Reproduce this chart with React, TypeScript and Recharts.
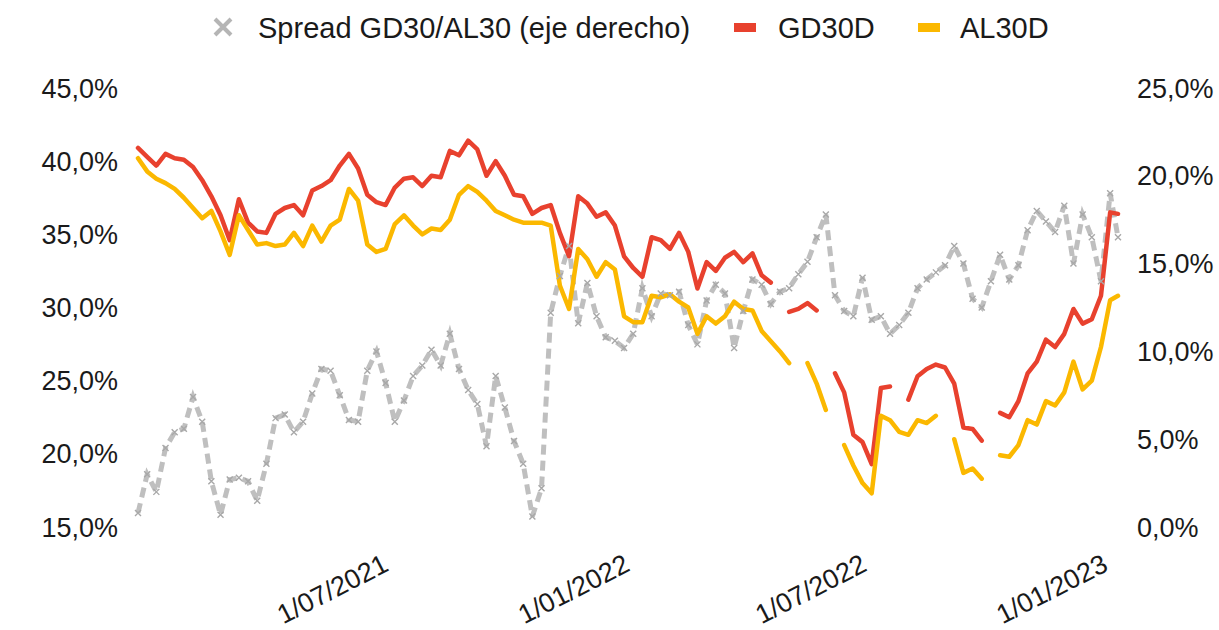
import { Line, LineChart, XAxis, YAxis } from 'recharts';

// weekly samples
const dates = [
  '2020-12-22', '2020-12-29', '2021-01-05', '2021-01-12', '2021-01-19', '2021-01-26', '2021-02-02', '2021-02-09', '2021-02-16', '2021-02-23',
  '2021-03-02', '2021-03-09', '2021-03-16', '2021-03-23', '2021-03-30', '2021-04-06', '2021-04-13', '2021-04-20', '2021-04-27', '2021-05-04',
  '2021-05-11', '2021-05-18', '2021-05-25', '2021-06-01', '2021-06-08', '2021-06-15', '2021-06-22', '2021-06-29', '2021-07-06', '2021-07-13',
  '2021-07-20', '2021-07-27', '2021-08-03', '2021-08-10', '2021-08-17', '2021-08-24', '2021-08-31', '2021-09-07', '2021-09-14', '2021-09-21',
  '2021-09-28', '2021-10-05', '2021-10-12', '2021-10-19', '2021-10-26', '2021-11-02', '2021-11-09', '2021-11-16', '2021-11-23', '2021-11-30',
  '2021-12-07', '2021-12-14', '2021-12-21', '2021-12-28', '2022-01-04', '2022-01-11', '2022-01-18', '2022-01-25', '2022-02-01', '2022-02-08',
  '2022-02-15', '2022-02-22', '2022-03-01', '2022-03-08', '2022-03-15', '2022-03-22', '2022-03-29', '2022-04-05', '2022-04-12', '2022-04-19',
  '2022-04-26', '2022-05-03', '2022-05-10', '2022-05-17', '2022-05-24', '2022-05-31', '2022-06-07', '2022-06-14', '2022-06-21', '2022-06-28',
  '2022-07-05', '2022-07-12', '2022-07-19', '2022-07-26', '2022-08-02', '2022-08-09', '2022-08-16', '2022-08-23', '2022-08-30', '2022-09-06',
  '2022-09-13', '2022-09-20', '2022-09-27', '2022-10-04', '2022-10-11', '2022-10-18', '2022-10-25', '2022-11-01', '2022-11-08', '2022-11-15',
  '2022-11-22', '2022-11-29', '2022-12-06', '2022-12-13', '2022-12-20', '2022-12-27', '2023-01-03', '2023-01-09',
];

const gd30d: (number | null)[] = [
  40.9, 40.3, 39.7, 40.5, 40.2, 40.1, 39.6, 38.7, 37.6, 36.3,
  34.6, 37.4, 35.8, 35.2, 35.1, 36.4, 36.8, 37.0, 36.3, 38.0,
  38.3, 38.7, 39.7, 40.5, 39.5, 37.7, 37.2, 37.0, 38.2, 38.8,
  38.9, 38.3, 39.0, 38.9, 40.7, 40.4, 41.4, 40.8, 39.0, 40.0,
  39.0, 37.7, 37.6, 36.4, 36.8, 37.0, 35.1, 33.5, 37.6, 37.1,
  36.2, 36.5, 35.6, 33.5, 32.7, 32.1, 34.8, 34.6, 34.0, 35.1,
  33.8, 31.3, 33.1, 32.5, 33.4, 33.8, 33.1, 33.7, 32.2, 31.7,
  null, 29.7, 29.9, 30.3, 29.8, null, 25.5, 24.2, 21.3, 20.8,
  19.3, 24.5, 24.6, null, 23.7, 25.3, 25.8, 26.1, 25.9, 24.8,
  21.8, 21.7, 20.9, null, 22.8, 22.5, 23.6, 25.5, 26.3, 27.8,
  27.3, 28.2, 29.9, 28.9, 29.2, 30.8, 36.5, 36.4,
];

const al30d: (number | null)[] = [
  40.2, 39.3, 38.8, 38.5, 38.1, 37.5, 36.8, 36.1, 36.6, 35.2,
  33.6, 36.3, 35.3, 34.3, 34.4, 34.2, 34.3, 35.1, 34.2, 35.6,
  34.5, 35.6, 36.0, 38.1, 37.3, 34.3, 33.8, 34.0, 35.7, 36.3,
  35.6, 35.0, 35.4, 35.3, 36.0, 37.7, 38.3, 37.9, 37.3, 36.6,
  36.3, 36.0, 35.8, 35.8, 35.8, 35.6, 31.5, 29.9, 34.0, 33.3,
  32.1, 33.1, 32.6, 29.4, 29.0, 29.0, 30.8, 30.7, 30.9, 30.4,
  30.0, 28.2, 29.4, 28.9, 29.4, 30.4, 29.9, 29.8, 28.4, 27.7,
  27.0, 26.2, null, 26.2, 24.8, 23.0, null, 20.6, 19.2, 18.0,
  17.3, 22.6, 22.3, 21.5, 21.3, 22.3, 22.1, 22.6, null, 21.0,
  18.7, 19.0, 18.3, null, 19.9, 19.8, 20.6, 22.3, 22.0, 23.6,
  23.3, 24.2, 26.3, 24.4, 25.0, 27.3, 30.5, 30.8,
];

// eje derecho
const spread: number[] = [
  0.8, 3.0, 2.0, 4.5, 5.4, 5.6, 7.4, 6.0, 2.6, 0.7,
  2.7, 2.8, 2.6, 1.5, 3.6, 6.2, 6.4, 5.4, 6.0, 7.6,
  9.0, 8.9, 7.5, 6.1, 6.0, 8.9, 10.0, 8.2, 6.0, 7.2,
  8.6, 9.2, 10.1, 9.2, 11.0, 9.0, 7.8, 7.0, 4.6, 8.6,
  6.8, 4.9, 3.6, 0.6, 2.2, 12.2, 14.3, 16.0, 11.6, 13.9,
  12.0, 10.8, 10.6, 10.2, 11.0, 13.6, 12.0, 13.3, 13.2, 13.4,
  11.5, 10.4, 12.9, 13.8, 13.3, 10.2, 12.3, 14.1, 13.8, 12.7,
  13.4, 13.6, 14.4, 15.1, 16.5, 17.8, 13.2, 12.3, 12.0, 14.2,
  11.8, 12.0, 11.0, 11.5, 12.2, 13.6, 14.1, 14.5, 14.9, 16.0,
  15.0, 13.0, 12.5, 14.0, 15.5, 14.1, 14.9, 16.9, 18.0, 17.4,
  16.8, 18.3, 15.0, 17.8, 16.5, 14.0, 19.0, 16.5,
];

const xTicks = ['2021-07-01', '2022-01-01', '2022-07-01', '2023-01-01'];
const leftTicks = [15, 20, 25, 30, 35, 40, 45];
const rightTicks = [0, 5, 10, 15, 20, 25];

const RED = '#e8412e';
const YELLOW = '#fbb800';
const GREY = '#bfbfbf';
const FONT = '"Liberation Sans", Arial, sans-serif';

const rows = dates.map((d, i) => ({
  t: Date.parse(d),
  gd: gd30d[i],
  al: al30d[i],
  spread: spread[i],
}));

const pct = (v: number) => `${v.toFixed(1).replace('.', ',')}%`;

function fmtDate(ts: number): string {
  const d = new Date(ts);
  const mm = String(d.getUTCMonth() + 1).padStart(2, '0');
  return `${d.getUTCDate()}/${mm}/${d.getUTCFullYear()}`;
}

function DateTick({ x, payload }: any) {
  return (
    <g transform={`translate(${x + 2},570) rotate(-27)`}>
      <text textAnchor="end" fontSize={27} fill="#1a1a1a" fontFamily={FONT}>
        {fmtDate(payload.value)}
      </text>
    </g>
  );
}

function CrossDot({ cx, cy }: any) {
  if (cx == null || cy == null) return <g />;
  return (
    <path
      d={`M${cx - 3},${cy - 3}L${cx + 3},${cy + 3}M${cx + 3},${cy - 3}L${cx - 3},${cy + 3}`}
      stroke="#a8a8a8"
      strokeWidth={1.4}
    />
  );
}

function LegendRow() {
  return (
    <svg width={1219} height={60} style={{ position: 'absolute', left: 0, top: 0 }}>
      <path d="M215,19L231,35M231,19L215,35" stroke="#b5b5b5" strokeWidth={4} />
      <text x={258} y={38} fontSize={29} fill="#1a1a1a" fontFamily={FONT}>
        Spread GD30/AL30 (eje derecho)
      </text>
      <rect x={734} y={23} width={22} height={9} fill={RED} />
      <text x={778} y={38} fontSize={29} fill="#1a1a1a" fontFamily={FONT}>
        GD30D
      </text>
      <rect x={918} y={23} width={22} height={9} fill={YELLOW} />
      <text x={960} y={38} fontSize={29} fill="#1a1a1a" fontFamily={FONT}>
        AL30D
      </text>
    </svg>
  );
}

export default function App() {
  const axisTick = { fontSize: 27, fill: '#1a1a1a', fontFamily: FONT };
  return (
    <div style={{ position: 'relative', width: 1219, height: 630, background: '#fff', fontFamily: FONT }}>
      <style>{'body{margin:0}'}</style>
      <LineChart
        width={1219}
        height={630}
        data={rows}
        margin={{ top: 88, right: 10, bottom: 8, left: 10 }}
      >
        <XAxis
          dataKey="t"
          type="number"
          domain={['dataMin', 'dataMax']}
          ticks={xTicks.map((d) => Date.parse(d))}
          tick={<DateTick />}
          tickSize={0}
          tickMargin={0}
          axisLine={false}
          height={95}
          interval={0}
        />
        <YAxis
          yAxisId="left"
          domain={[15, 45]}
          ticks={leftTicks}
          tickFormatter={pct}
          tick={axisTick}
          tickSize={0}
          tickMargin={20}
          axisLine={false}
          width={128}
          interval={0}
        />
        <YAxis
          yAxisId="right"
          orientation="right"
          domain={[0, 25]}
          ticks={rightTicks}
          tickFormatter={pct}
          tick={{ ...axisTick, textAnchor: 'start' }}
          tickSize={0}
          tickMargin={19}
          axisLine={false}
          width={91}
          interval={0}
        />
        <Line
          yAxisId="right"
          dataKey="spread"
          name="Spread GD30/AL30 (eje derecho)"
          type="linear"
          stroke={GREY}
          strokeWidth={5}
          strokeDasharray="10 6"
          dot={<CrossDot />}
          activeDot={false}
          isAnimationActive={false}
        />
        <Line
          yAxisId="left"
          dataKey="gd"
          name="GD30D"
          type="linear"
          stroke={RED}
          strokeWidth={4.5}
          strokeLinejoin="round"
          strokeLinecap="round"
          dot={false}
          activeDot={false}
          isAnimationActive={false}
        />
        <Line
          yAxisId="left"
          dataKey="al"
          name="AL30D"
          type="linear"
          stroke={YELLOW}
          strokeWidth={4.5}
          strokeLinejoin="round"
          strokeLinecap="round"
          dot={false}
          activeDot={false}
          isAnimationActive={false}
        />
      </LineChart>
      <LegendRow />
    </div>
  );
}
